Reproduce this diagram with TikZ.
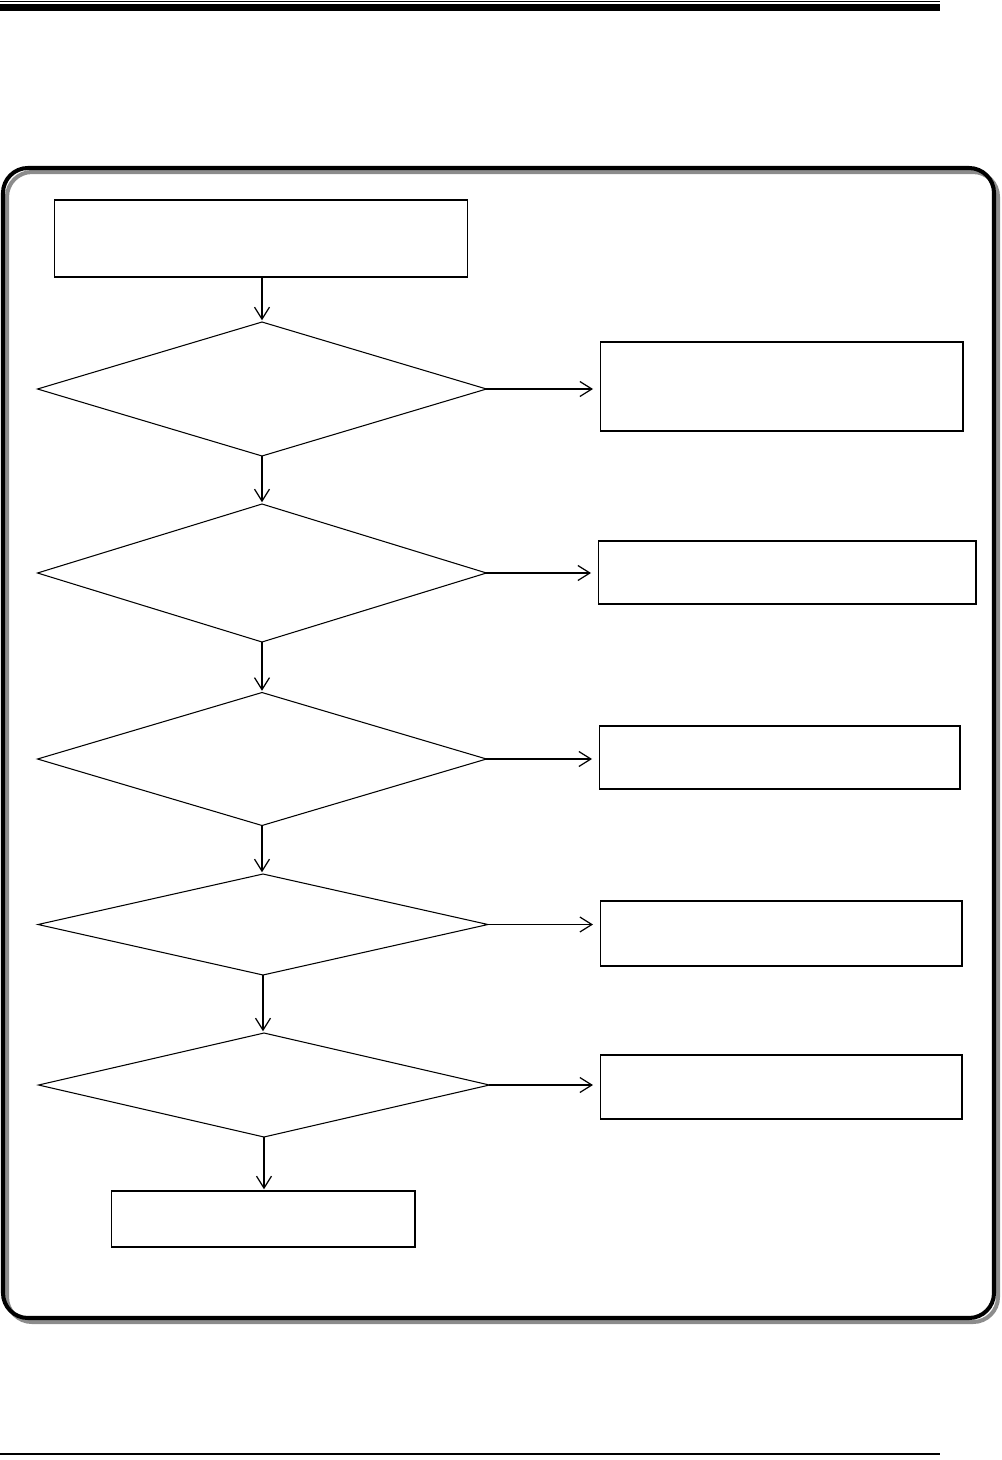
\documentclass[tikz,border=0pt]{standalone}
\usepackage{tikz}
\usetikzlibrary{arrows.meta,shapes.geometric}

\begin{document}
\begin{tikzpicture}[
  x=0.02cm,y=-0.02cm,
  startbox/.style={rectangle,draw,line width=0.6pt,inner sep=0pt,outer sep=0pt},
  cond/.style={diamond,draw,line width=0.6pt,inner sep=0pt,outer sep=0pt,aspect=3},
  arc/.style={-{Straight Barb[length=2.4mm,width=3mm,line width=0.7pt]},line width=0.7pt,shorten >=1pt}
]
\useasboundingbox (0,0) rectangle (1001,1460);
% page rules
\draw[line width=0.6pt] (0,1.5) -- (940,1.5);
\fill (0,4.5) rectangle (940,11);
\draw[line width=0.6pt] (0,1454) -- (940,1454);
% outer frame with shadow
\draw[black!45,line width=2.3pt,rounded corners=0.5cm] (7,172) rectangle (998,1322);
\draw[line width=2.3pt,rounded corners=0.5cm] (3,168) rectangle (994,1318);

\node[startbox,minimum width=8.28cm,minimum height=1.54cm] (b1) at (261,238.5) {};
\node[cond,minimum width=8.98cm,minimum height=2.68cm] (d1) at (262,389) {};
\node[cond,minimum width=8.98cm,minimum height=2.76cm] (d2) at (262,573) {};
\node[cond,minimum width=8.98cm,minimum height=2.66cm] (d3) at (262,759) {};
\node[cond,minimum width=9.00cm,minimum height=2.02cm] (d4) at (263,924.5) {};
\node[cond,minimum width=9.02cm,minimum height=2.08cm] (d5) at (264,1085) {};
\node[startbox,minimum width=7.26cm,minimum height=1.78cm] (r1) at (781.5,386.5) {};
\node[startbox,minimum width=7.56cm,minimum height=1.26cm] (r2) at (787,572.5) {};
\node[startbox,minimum width=7.22cm,minimum height=1.26cm] (r3) at (779.5,757.5) {};
\node[startbox,minimum width=7.24cm,minimum height=1.30cm] (r4) at (781,933.5) {};
\node[startbox,minimum width=7.24cm,minimum height=1.28cm] (r5) at (781,1087) {};
\node[startbox,minimum width=6.08cm,minimum height=1.12cm] (fin) at (263,1219) {};

\draw[arc] (b1.south -| d1.north) -- (d1.north);
\foreach \a/\b in {d1/d2,d2/d3,d3/d4,d4/d5}
  \draw[arc] (\a.south) -- (\a.south |- \b.north);
\draw[arc] (d5.south) -- (d5.south |- fin.north);

\foreach \a/\b in {d1/r1,d2/r2,d3/r3,d4/r4,d5/r5}
  \draw[arc,shorten >=4pt] (\a.east) -- (\a.east -| \b.west);
\end{tikzpicture}
\end{document}
